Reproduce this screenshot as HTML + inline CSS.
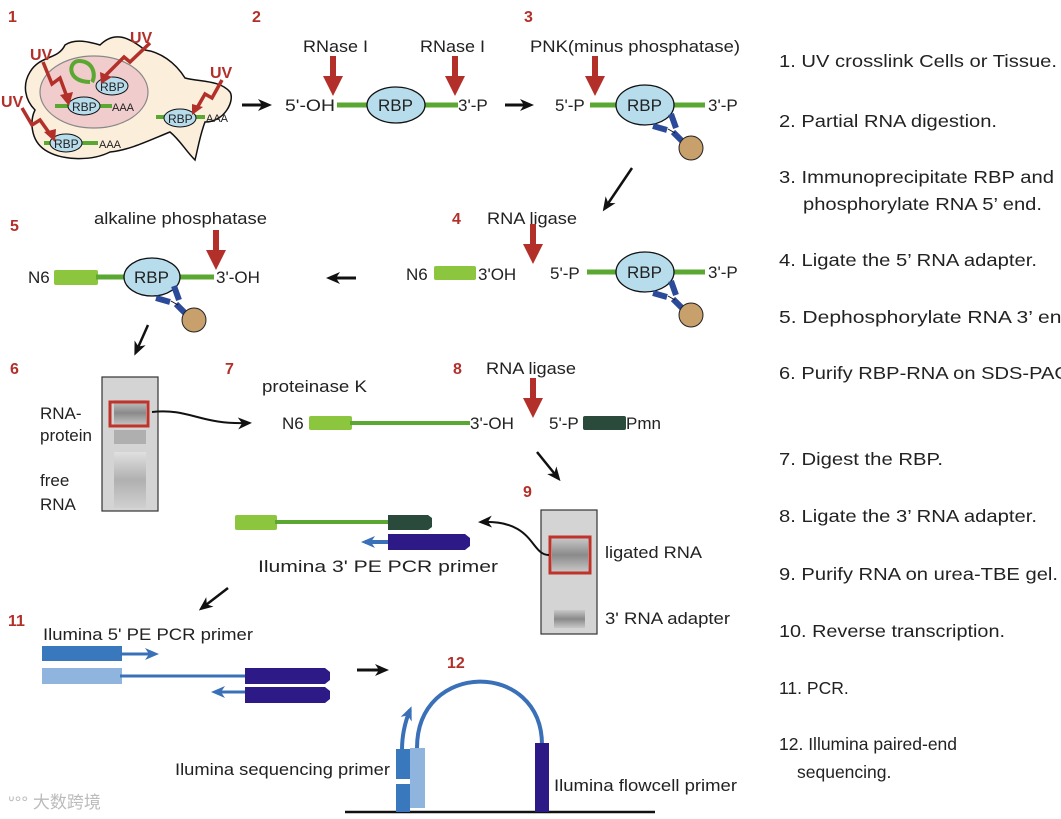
<!DOCTYPE html>
<html><head><meta charset="utf-8"><style>
html,body{margin:0;padding:0;background:#fff;}
svg{display:block;font-family:"Liberation Sans",Arial,sans-serif;}
.n{fill:#b3302a;font-weight:bold;font-size:16px;}
.t{font-size:17px;fill:#222;}
.r{font-size:17.5px;fill:#222;}
</style></head><body>
<svg width="1061" height="819" viewBox="0 0 1061 819" xmlns="http://www.w3.org/2000/svg">
<defs>
<marker id="bh" markerWidth="14" markerHeight="12" refX="10" refY="6" orient="auto" markerUnits="userSpaceOnUse"><path d="M0,0 L14,6 L0,12 L4,6 Z" fill="#111"/></marker>
<marker id="blh" markerWidth="14" markerHeight="12" refX="10" refY="6" orient="auto" markerUnits="userSpaceOnUse"><path d="M0,0 L14,6 L0,12 L4,6 Z" fill="#3a70b8"/></marker>
<g id="red"><rect x="-3" y="0" width="6" height="24" fill="#b3302a"/><path d="M-10,20 L10,20 L0,40 Z" fill="#b3302a"/></g>
<g id="ab"><path d="M26,12 L31,26" stroke="#2c4a9a" stroke-width="6"/><path d="M8,24 L22,28" stroke="#2c4a9a" stroke-width="6"/><path d="M28,30 L38,40" stroke="#2c4a9a" stroke-width="6"/><path d="M23,27 L30,31" stroke="#111" stroke-width="1"/><circle cx="46" cy="46" r="12" fill="#c8a06b" stroke="#222" stroke-width="1"/></g>
<linearGradient id="band" x1="0" y1="0" x2="0" y2="1"><stop offset="0" stop-color="#c8c8c8"/><stop offset="0.5" stop-color="#8a8a8a"/><stop offset="1" stop-color="#c8c8c8"/></linearGradient>
<linearGradient id="smear" x1="0" y1="0" x2="0" y2="1"><stop offset="0" stop-color="#e0e0e0"/><stop offset="0.5" stop-color="#b0b0b0"/><stop offset="1" stop-color="#d0d0d0"/></linearGradient>
</defs>

<text class="n" x="8" y="22">1</text>
<text class="n" x="252" y="22">2</text>
<text class="n" x="524" y="22">3</text>
<text class="n" x="452" y="224">4</text>
<text class="n" x="10" y="231">5</text>
<text class="n" x="10" y="374">6</text>
<text class="n" x="225" y="374">7</text>
<text class="n" x="453" y="374">8</text>
<text class="n" x="523" y="497">9</text>
<text class="n" x="8" y="626">11</text>
<text class="n" x="447" y="668">12</text>

<!-- step 1 cell -->
<path d="M30,72 C40,55 58,60 65,45 C75,38 90,42 100,45 C115,30 130,38 145,50 C160,52 175,62 185,78 C200,82 220,80 230,92 C235,100 225,122 205,122 C200,135 198,148 195,160 C185,150 180,140 170,132 C150,140 130,150 110,152 C90,162 60,160 45,150 C30,140 30,120 35,110 C25,100 22,85 30,72 Z" fill="#fbeedb" stroke="#111" stroke-width="1.5"/>
<ellipse cx="94" cy="92" rx="54" ry="36" fill="#f0cccc" stroke="#888" stroke-width="1.2"/>
<path d="M90,82 C66,82 68,60 80,61 C94,62 96,76 92,82" fill="none" stroke="#5aa832" stroke-width="4"/>
<line x1="55" y1="106" x2="112" y2="106" stroke="#5aa832" stroke-width="4"/>
<line x1="44" y1="143" x2="98" y2="143" stroke="#5aa832" stroke-width="4"/>
<line x1="156" y1="117" x2="205" y2="117" stroke="#5aa832" stroke-width="4"/>
<ellipse cx="112" cy="86" rx="16" ry="9" fill="#b7dcec" stroke="#111"/><text x="100" y="91" font-size="12" fill="#222">RBP</text>
<ellipse cx="84" cy="106" rx="16" ry="9" fill="#b7dcec" stroke="#111"/><text x="72" y="111" font-size="12" fill="#222">RBP</text>
<ellipse cx="66" cy="143" rx="16" ry="9" fill="#b7dcec" stroke="#111"/><text x="54" y="148" font-size="12" fill="#222">RBP</text>
<ellipse cx="180" cy="118" rx="16" ry="9" fill="#b7dcec" stroke="#111"/><text x="168" y="123" font-size="12" fill="#222">RBP</text>
<text x="112" y="111" font-size="11" fill="#222">AAA</text>
<text x="99" y="148" font-size="11" fill="#222">AAA</text>
<text x="206" y="122" font-size="11" fill="#222">AAA</text>
<g fill="none" stroke="#b3302a" stroke-width="3.5">
<path d="M43,62 L52,84 L60,78 L67,97"/><path d="M150,43 L130,62 L124,57 L106,75"/><path d="M22,108 L32,125 L40,120 L50,134"/><path d="M222,80 L212,98 L205,94 L197,108"/>
</g>
<g fill="#b3302a"><path d="M60,95 L73,92 L69,106Z"/><path d="M100,72 L112,77 L101,84Z"/><path d="M44,132 L56,129 L55,142Z"/><path d="M192,104 L203,107 L192,115Z"/></g>
<text x="30" y="60" class="n">UV</text><text x="130" y="43" class="n">UV</text><text x="1" y="107" class="n">UV</text><text x="210" y="78" class="n">UV</text>

<line x1="242" y1="105" x2="268" y2="105" stroke="#111" stroke-width="3" marker-end="url(#bh)"/>

<!-- step 2 -->
<text class="t" x="303" y="52" textLength="65" lengthAdjust="spacingAndGlyphs" font-size="18">RNase I</text><text class="t" x="420" y="52" textLength="65" lengthAdjust="spacingAndGlyphs" font-size="18">RNase I</text>
<use href="#red" x="333" y="56"/><use href="#red" x="455" y="56"/>
<text class="t" x="285" y="111" textLength="50" lengthAdjust="spacingAndGlyphs" font-size="18">5'-OH</text>
<line x1="337" y1="105" x2="458" y2="105" stroke="#5aa832" stroke-width="5"/>
<ellipse cx="396" cy="105" rx="29" ry="18" fill="#b7dcec" stroke="#111" stroke-width="1.3"/>
<text x="378" y="111" font-size="17" fill="#222">RBP</text>
<text class="t" x="458" y="111">3'-P</text>
<line x1="505" y1="105" x2="530" y2="105" stroke="#111" stroke-width="3" marker-end="url(#bh)"/>

<!-- step 3 -->
<text class="t" x="530" y="52" textLength="210" lengthAdjust="spacingAndGlyphs" font-size="18">PNK(minus phosphatase)</text>
<use href="#red" x="595" y="56"/>
<text class="t" x="555" y="111">5'-P</text>
<line x1="590" y1="105" x2="705" y2="105" stroke="#5aa832" stroke-width="5"/>
<ellipse cx="645" cy="105" rx="29" ry="20" fill="#b7dcec" stroke="#111" stroke-width="1.3"/>
<text x="627" y="111" font-size="17" fill="#222">RBP</text>
<text class="t" x="708" y="111">3'-P</text>
<use href="#ab" x="645" y="102"/>
<line x1="632" y1="168" x2="605" y2="208" stroke="#111" stroke-width="2.5" marker-end="url(#bh)"/>

<!-- step 4 -->
<text class="t" x="487" y="224" textLength="90" lengthAdjust="spacingAndGlyphs" font-size="18">RNA ligase</text>
<use href="#red" x="533" y="224"/>
<text class="t" x="406" y="280">N6</text>
<rect x="434" y="266" width="42" height="14" rx="2" fill="#8cc63f"/>
<text class="t" x="478" y="280">3'OH</text>
<text class="t" x="550" y="279">5'-P</text>
<line x1="587" y1="272" x2="705" y2="272" stroke="#5aa832" stroke-width="5"/>
<ellipse cx="645" cy="272" rx="29" ry="20" fill="#b7dcec" stroke="#111" stroke-width="1.3"/>
<text x="627" y="278" font-size="17" fill="#222">RBP</text>
<text class="t" x="708" y="278">3'-P</text>
<use href="#ab" x="645" y="269"/>
<line x1="356" y1="278" x2="330" y2="278" stroke="#111" stroke-width="3" marker-end="url(#bh)"/>

<!-- step 5 -->
<text class="t" x="94" y="224" textLength="173" lengthAdjust="spacingAndGlyphs" font-size="18">alkaline phosphatase</text>
<use href="#red" x="216" y="230"/>
<text class="t" x="28" y="283">N6</text>
<rect x="54" y="270" width="44" height="15" rx="2" fill="#8cc63f"/>
<line x1="96" y1="277" x2="214" y2="277" stroke="#5aa832" stroke-width="5"/>
<ellipse cx="152" cy="277" rx="28" ry="19" fill="#b7dcec" stroke="#111" stroke-width="1.3"/>
<text x="134" y="283" font-size="17" fill="#222">RBP</text>
<text class="t" x="216" y="283">3'-OH</text>
<use href="#ab" x="148" y="274"/>
<line x1="148" y1="325" x2="136" y2="352" stroke="#111" stroke-width="2.5" marker-end="url(#bh)"/>

<!-- step 6 gel -->
<rect x="102" y="377" width="56" height="134" fill="#d4d4d4" stroke="#333" stroke-width="1.2"/>
<rect x="114" y="400" width="32" height="26" fill="url(#band)"/>
<rect x="114" y="430" width="32" height="14" fill="#a0a0a0" opacity="0.7"/>
<rect x="114" y="452" width="32" height="56" fill="url(#smear)"/>
<rect x="110" y="402" width="38" height="24" fill="none" stroke="#c0332a" stroke-width="3"/>
<text class="t" x="40" y="419">RNA-</text><text class="t" x="40" y="441">protein</text>
<text class="t" x="40" y="486">free</text><text class="t" x="40" y="510">RNA</text>
<path d="M152,412 C190,408 200,425 248,423" fill="none" stroke="#111" stroke-width="2" marker-end="url(#bh)"/>

<!-- step 7 -->
<text class="t" x="262" y="392" textLength="105" lengthAdjust="spacingAndGlyphs" font-size="18">proteinase K</text>
<text class="t" x="282" y="429">N6</text>
<rect x="309" y="416" width="43" height="14" rx="2" fill="#8cc63f"/>
<line x1="350" y1="423" x2="470" y2="423" stroke="#5aa832" stroke-width="4"/>
<text class="t" x="470" y="429">3'-OH</text>

<!-- step 8 -->
<text class="t" x="486" y="374" textLength="90" lengthAdjust="spacingAndGlyphs" font-size="18">RNA ligase</text>
<use href="#red" x="533" y="378"/>
<text class="t" x="549" y="429">5'-P</text>
<rect x="583" y="416" width="43" height="14" rx="2" fill="#2a4a3c"/>
<text class="t" x="626" y="429">Pmn</text>
<line x1="537" y1="452" x2="558" y2="478" stroke="#111" stroke-width="2.5" marker-end="url(#bh)"/>

<!-- step 9 gel -->
<rect x="541" y="510" width="56" height="124" fill="#d4d4d4" stroke="#333" stroke-width="1.2"/>
<rect x="552" y="538" width="36" height="34" fill="url(#band)"/>
<rect x="550" y="537" width="40" height="36" fill="none" stroke="#c0332a" stroke-width="3"/>
<rect x="554" y="610" width="31" height="18" fill="url(#band)"/>
<text class="t" x="605" y="558" textLength="97" lengthAdjust="spacingAndGlyphs" font-size="18">ligated RNA</text>
<text class="t" x="605" y="624" textLength="125" lengthAdjust="spacingAndGlyphs" font-size="18">3' RNA adapter</text>
<path d="M549,555 C530,555 535,520 482,522" fill="none" stroke="#111" stroke-width="2" marker-end="url(#bh)"/>

<!-- step 10 -->
<rect x="235" y="515" width="42" height="15" rx="2" fill="#8cc63f"/>
<line x1="275" y1="522" x2="392" y2="522" stroke="#5aa832" stroke-width="4"/>
<path d="M388,515 L428,515 L432,518 L432,527 L428,530 L388,530 Z" fill="#2a4a3c"/>
<line x1="392" y1="542" x2="365" y2="542" stroke="#3a70b8" stroke-width="4" marker-end="url(#blh)"/>
<path d="M388,534 L465,534 L470,538 L470,546 L465,550 L388,550 Z" fill="#2e1a87"/>
<text class="t" x="258" y="572" textLength="240" lengthAdjust="spacingAndGlyphs" font-size="18">Ilumina 3' PE PCR primer</text>
<line x1="228" y1="588" x2="202" y2="608" stroke="#111" stroke-width="2.5" marker-end="url(#bh)"/>

<!-- step 11 -->
<text class="t" x="43" y="640" textLength="210" lengthAdjust="spacingAndGlyphs" font-size="18">Ilumina 5' PE PCR primer</text>
<rect x="42" y="646" width="80" height="15" fill="#3a78bd"/>
<line x1="120" y1="654" x2="155" y2="654" stroke="#3a70b8" stroke-width="3" marker-end="url(#blh)"/>
<rect x="42" y="668" width="80" height="16" fill="#8fb4de"/>
<line x1="120" y1="676" x2="248" y2="676" stroke="#3a70b8" stroke-width="3"/>
<path d="M245,668 L325,668 L330,672 L330,680 L325,684 L245,684 Z" fill="#2e1a87"/>
<line x1="248" y1="692" x2="215" y2="692" stroke="#3a70b8" stroke-width="3" marker-end="url(#blh)"/>
<path d="M245,687 L325,687 L330,691 L330,699 L325,703 L245,703 Z" fill="#2e1a87"/>
<line x1="357" y1="670" x2="385" y2="670" stroke="#111" stroke-width="3" marker-end="url(#bh)"/>

<!-- step 12 -->
<line x1="345" y1="812" x2="655" y2="812" stroke="#111" stroke-width="2.5"/>
<path d="M417,748 C417,660 542,660 542,745" fill="none" stroke="#3a70b8" stroke-width="4"/>
<path d="M402,750 C402,735 405,722 410,710" fill="none" stroke="#3a70b8" stroke-width="4" marker-end="url(#blh)"/>
<rect x="396" y="749" width="14" height="30" fill="#3a78bd"/>
<rect x="396" y="784" width="14" height="28" fill="#3a78bd"/>
<rect x="410" y="748" width="15" height="60" fill="#8fb4de"/>
<rect x="535" y="743" width="14" height="69" fill="#2e1a87"/>
<text class="t" x="175" y="775" textLength="215" lengthAdjust="spacingAndGlyphs" font-size="18">Ilumina sequencing primer</text>
<text class="t" x="554" y="791" textLength="183" lengthAdjust="spacingAndGlyphs" font-size="18">Ilumina flowcell primer</text>

<text x="8" y="808" font-size="17" fill="#bbb" font-family="'Liberation Sans','Noto Sans CJK SC',sans-serif">ᐡ°° 大数跨境</text>

<!-- right column -->
<g class="r">
<text x="779" y="67" textLength="278" lengthAdjust="spacingAndGlyphs">1. UV crosslink Cells or  Tissue.</text>
<text x="779" y="127" textLength="218" lengthAdjust="spacingAndGlyphs">2. Partial RNA  digestion.</text>
<text x="779" y="183" textLength="275" lengthAdjust="spacingAndGlyphs">3. Immunoprecipitate  RBP and</text>
<text x="803" y="210" textLength="239" lengthAdjust="spacingAndGlyphs">phosphorylate  RNA 5’ end.</text>
<text x="779" y="266" textLength="258" lengthAdjust="spacingAndGlyphs">4. Ligate the 5’ RNA adapter.</text>
<text x="779" y="323" textLength="300" lengthAdjust="spacingAndGlyphs">5. Dephosphorylate  RNA 3’ end.</text>
<text x="779" y="379" textLength="310" lengthAdjust="spacingAndGlyphs">6. Purify RBP-RNA  on SDS-PAGE.</text>
<text x="779" y="465" textLength="164" lengthAdjust="spacingAndGlyphs">7. Digest the RBP.</text>
<text x="779" y="522" textLength="258" lengthAdjust="spacingAndGlyphs">8. Ligate the 3’ RNA adapter.</text>
<text x="779" y="580" textLength="279" lengthAdjust="spacingAndGlyphs">9. Purify RNA on urea-TBE gel.</text>
<text x="779" y="637" textLength="226" lengthAdjust="spacingAndGlyphs">10. Reverse transcription.</text>
<text x="779" y="694">11. PCR.</text>
<text x="779" y="750">12. Illumina paired-end</text>
<text x="797" y="778">sequencing.</text>
</g>
</svg>
</body></html>
